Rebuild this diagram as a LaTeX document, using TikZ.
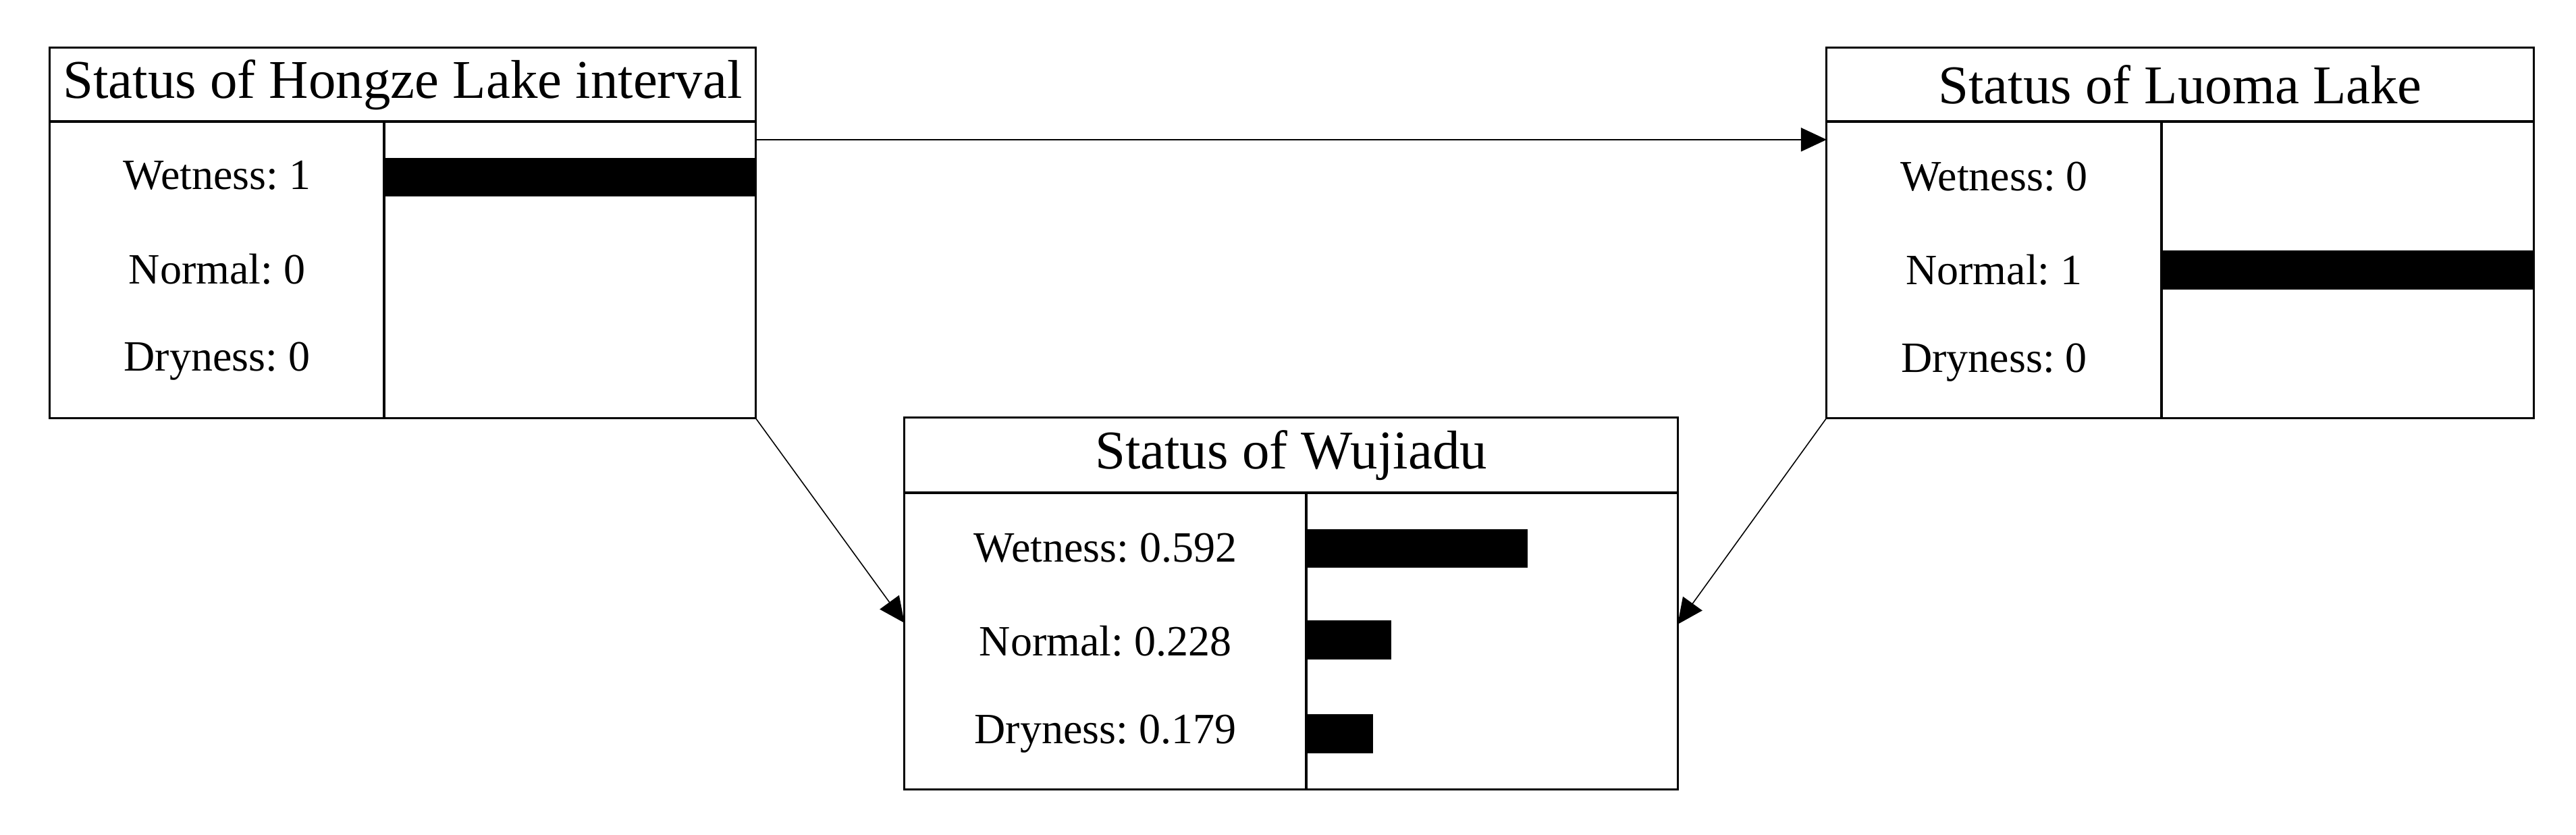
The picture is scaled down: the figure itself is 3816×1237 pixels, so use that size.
\documentclass[tikz,border=0pt]{standalone}
\usepackage{fontspec}
\setmainfont{Liberation Serif}
\usetikzlibrary{arrows.meta,calc}
\newcommand\ttlfont{\fontsize{23}{27}\selectfont}
\newcommand\labfont{\fontsize{18.2}{22}\selectfont}
\frenchspacing
\begin{document}
\begin{tikzpicture}[x=0.01cm,y=-0.01cm,
  box/.style={draw, line width=0.85pt, rectangle, inner sep=0pt, outer sep=0pt},
  ttl/.style={box, font=\ttlfont, minimum height=1.09cm},
  body/.style={box, minimum height=4.39cm},
  bar/.style={fill=black, rectangle, inner sep=0pt, outer sep=0pt, minimum height=0.57cm},
  lab/.style={font=\labfont, inner sep=0pt},
  arr/.style={-{Triangle[length=10.8pt,width=10pt]}, line width=0.45pt}]
\useasboundingbox (0,0) rectangle (3816,1237);
% Box 1: Hongze Lake interval
\node[ttl, minimum width=10.45cm] (h-title) at (596.5,125.5) {Status of Hongze Lake interval};
\node[body, minimum width=4.95cm] (h-left) at (321.5,399.5) {};
\node[body, minimum width=5.50cm] (h-right) at (844,399.5) {};
\node[lab] (h-l1) at (321.5,260) {Wetness: 1};
\node[lab] (h-l2) at (321.5,399) {Normal: 0};
\node[lab] (h-l3) at (321.5,535) {Dryness: 0};
\node[bar, minimum width=5.50cm] (h-b1) at (844,262.5) {};
% Box 2: Luoma Lake
\node[ttl, minimum width=10.47cm] (l-title) at (3229.5,125.5) {Status of Luoma Lake};
\node[body, minimum width=4.96cm] (l-left) at (2954,399.5) {};
\node[body, minimum width=5.51cm] (l-right) at (3477.5,399.5) {};
\node[lab] (l-l1) at (2954,262) {Wetness: 0};
\node[lab] (l-l2) at (2954,400) {Normal: 1};
\node[lab] (l-l3) at (2954,537) {Dryness: 0};
\node[bar, minimum width=5.51cm] (l-b2) at (3477.5,400) {};
% Box 3: Wujiadu
\node[ttl, minimum width=11.45cm, minimum height=1.11cm] (w-title) at (1912.5,674.5) {Status of Wujiadu};
\node[body, minimum width=5.95cm] (w-left) at (1637.5,949.5) {};
\node[body, minimum width=5.50cm] (w-right) at (2210,949.5) {};
\node[lab] (w-l1) at (1637.5,812) {Wetness: 0.592};
\node[lab] (w-l2) at (1637.5,950) {Normal: 0.228};
\node[lab] (w-l3) at (1637.5,1087) {Dryness: 0.179};
\node[bar, minimum width=3.28cm] (w-b1) at (2099,812.5) {};
\node[bar, minimum width=1.26cm] (w-b2) at (1998,948) {};
\node[bar, minimum width=0.99cm] (w-b3) at (1984.5,1087) {};
% connectors
\draw[arr] ($(h-right.north east)+(0,27)$) -- ($(l-left.north west)+(0,27)$);
\draw[arr] (h-right.south east) -- ($(w-left.north west)+(0,193)$);
\draw[arr] (l-left.south west) -- ($(w-right.north east)+(0,195)$);
\end{tikzpicture}
\end{document}
